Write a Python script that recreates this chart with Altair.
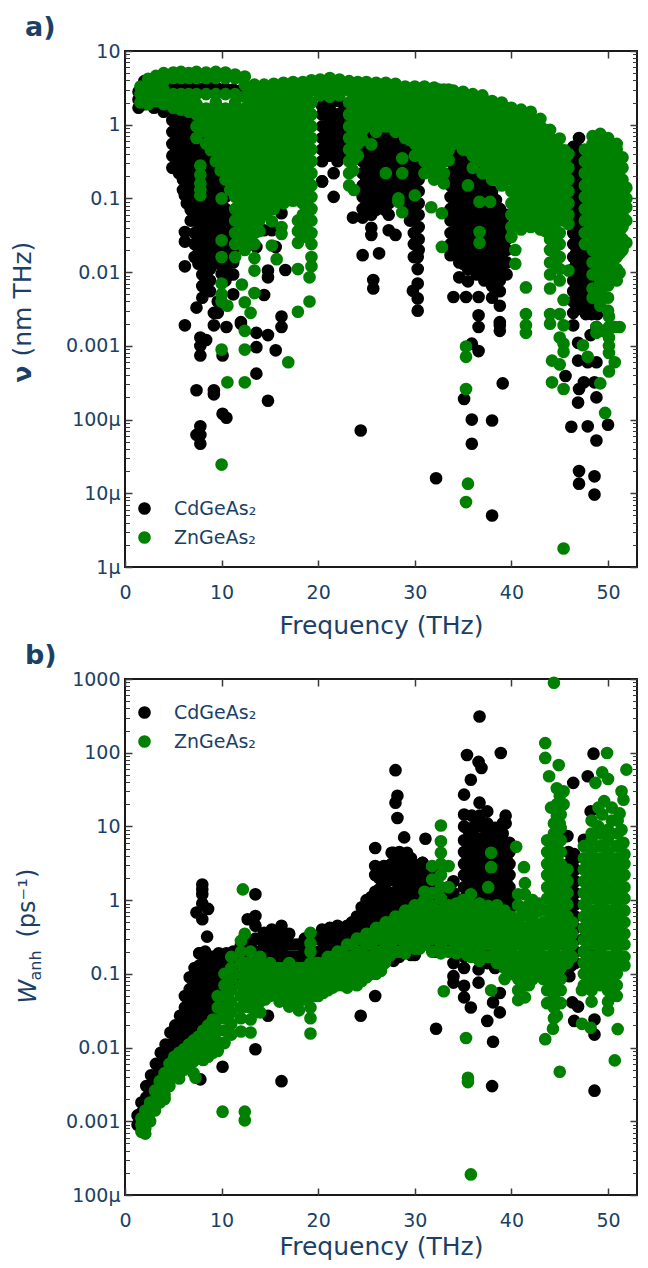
import altair as alt
import pandas as pd

NAVY = "#1b3f66"
TICK = "#3a3a3a"
BLACK = "#000000"
GREEN = "#008000"
SERIES = ["CdGeAs₂", "ZnGeAs₂"]
X_TICKS = [0, 10, 20, 30, 40, 50]
X_MAX = 53.0
A_TICKS = [1e-6, 1e-5, 1e-4, 1e-3, 1e-2, 1e-1, 1, 10]
B_TICKS = [1e-4, 1e-3, 1e-2, 1e-1, 1, 10, 100, 1000]

# Panel a, ZnGeAs2: (frequency, [values read at that frequency])
A_ZN = [
(1.6,[3.3,2.6,2.0]),(2.4,[4.2,3.2,2.4,1.9]),(3.2,[4.6,3.6,2.8,2.1]),(4,[5.0,3.9,3.0,2.3,1.9]),
(5,[5.1,4.3,2.6,1.95,1.7]),(5.8,[5.2,4.3,2.6,1.9,1.6]),(6.6,[5.0,4.3,2.6,1.9,1.5]),
(7.4,[5.2,4.3,2.6,1.9,1.38,.95,.66]),(8.4,[5.1,4.3,2.6,1.65,1.15,.8,.55]),
(9.4,[5.2,4.3,2.6,2,1.38,.95,.66,.46,.32]),(10.4,[5.1,4.3,2.6,1.65,1.15,.8,.55,.38,.26,.18]),
(11.4,[4.8,4.3,2.6,2,1.38,.95,.66,.46,.32,.22,.15,.105,.072,.05,.034,.024,.016]),
(12.4,[4.5,3.45,2.4,1.65,1.15,.8,.55,.38,.26,.18,.125,.086,.06,.041,.028,.02]),
(13.4,[3.5,2.9,2,1.38,.95,.66,.46,.32,.22,.15,.105,.072,.05,.034,.024]),
(14.4,[3.5,2.4,1.65,1.15,.8,.55,.38,.26,.18,.125,.086,.06]),
(15.4,[3.6,2.9,2,1.38,.95,.66,.46,.32,.22,.15,.105,.072]),
(16.4,[3.7,2.4,1.65,1.15,.8,.55,.38,.26,.18,.125,.086]),
(17.4,[3.8,2.9,2,1.38,.95,.66,.46,.32,.22,.15,.105]),
(18.4,[3.8,2.4,1.65,1.15,.8,.55,.38,.26,.18,.125,.086,.06,.041,.03]),
(19.3,[4.0,2.9,2,1.38,.95,.66,.46,.32,.22,.15,.105,.072,.05,.034,.024,.016,.012]),
(20.2,[4.1,3.2,2.5]),(21.2,[4.3,3.6,2.9,2.4]),(22.2,[4.1,3.2,2.5]),
(23.2,[3.9,2.9,2,1.38,.95,.66,.46,.32,.22,.15]),(24.1,[3.8,2.4,1.65,1.15,.8,.55,.38]),
(25,[3.8,2.9,2,1.38,.95]),(26,[3.7,2.4,1.65,1.15,.8]),(27,[3.7,2.9,2,1.38,.95]),(28,[3.6,2.4,1.65,1.15,.8]),
(29,[3.3,2.9,2,1.38,.95,.66]),(30,[3.3,2.4,1.65,1.15,.8,.55,.38]),(31,[3.3,2.9,2,1.38,.95,.66,.46,.32,.22]),
(32,[3.2,2.4,1.65,1.15,.8,.55,.38,.26,.18]),(33,[3.0,2,1.38,.95,.66,.46,.32,.22,.16]),(34,[2.9,2.4,1.65,1.15,.8,.55]),
(35,[2.8,2,1.38,.95,.66,.46]),(36,[2.6,1.65,1.15,.8,.55,.38,.26]),(37,[2.5,2,1.38,.95,.66,.46,.32,.22]),
(38,[2.1,1.65,1.15,.8,.55,.38,.26,.18]),(39,[2.0,1.38,.95,.66,.46,.32,.22,.15]),
(40,[1.7,1.15,.8,.55,.38,.26,.18,.125,.086,.06,.041,.03]),(41,[1.6,1.38,.95,.66,.46,.32,.22,.15,.105,.072,.05,.038]),
(42,[1.5,1.15,.8,.55,.38,.26,.18,.125,.086,.06,.041]),(43,[1.2,.95,.66,.46,.32,.22,.15,.105,.072,.05,.038]),
(44,[.85,.55,.38,.26,.18,.125,.086,.06,.041,.028,.02,.0135,.0093,.006]),
(45,[.65,.46,.32,.22,.15,.105,.072,.05,.034,.024,.016,.011,.0077]),(45.9,[.4,.26,.18,.125,.086,.06,.045]),
(47.6,[.46,.32,.22,.15,.105,.072,.05,.034,.024]),
(48.4,[.7,.55,.38,.26,.18,.125,.086,.06,.041,.028,.02,.0135,.0093,.006,.0045]),
(49.2,[.75,.66,.46,.32,.22,.15,.105,.072,.05,.034,.024,.016,.011,.0077,.005,.0035]),
(50,[.66,.55,.38,.26,.18,.125,.086,.06,.041,.028,.02,.0135,.0093,.0066,.0045,.003]),
(50.9,[.55,.46,.32,.22,.15,.105,.072,.05,.034,.024,.016,.011,.0077]),
(51.5,[.36,.26,.18,.125,.086,.06,.041,.028,.02]),(51.9,[.14,.1,.076,.05,.025]),
]
# Panel a, ZnGeAs2: further points inside the dense cloud
A_ZN_DENSE = [
(7.9,[1.6,1.15,.85]),(8.9,[1.6,1.15,.85,.62,.45]),(9.9,[1.6,1.15,.85,.62,.45,.33,.24]),
(10.9,[1.6,1.15,.85,.62,.45,.33,.24,.18,.13]),(11.9,[1.6,1.15,.85,.62,.45,.33,.24,.18,.13,.095,.07,.05,.036,.026]),
(12.9,[3,2.2,1.6,1.15,.85,.62,.45,.33,.24,.18,.13,.095,.07,.05,.036,.026]),
(13.9,[3,2.2,1.6,1.15,.85,.62,.45,.33,.24,.18,.13,.095,.07,.05,.036]),
(14.9,[3,2.2,1.6,1.15,.85,.62,.45,.33,.24,.18,.13,.095,.07]),(15.9,[3,2.2,1.6,1.15,.85,.62,.45,.33,.24,.18,.13,.095]),
(16.9,[3,2.2,1.6,1.15,.85,.62,.45,.33,.24,.18,.13,.095]),(17.9,[3,2.2,1.6,1.15,.85,.62,.45,.33,.24,.18,.13,.095]),
(18.9,[3,2.2,1.6,1.15,.85,.62,.45,.33,.24,.18,.13,.095,.07,.05,.036]),
(23.6,[3,2.2,1.6,1.15,.85,.62,.45,.33,.24]),(24.6,[3,2.2,1.6,1.15,.85,.62]),(25.5,[3,2.2,1.6,1.15]),(26.5,[3,2.2,1.6,1.15,.95]),
(27.5,[3,2.2,1.6,1.15,.95]),(28.5,[3,2.2,1.6,1.15,.85]),(29.5,[3,2.2,1.6,1.15,.85,.62]),(30.5,[3,2.2,1.6,1.15,.85,.62,.45]),
(31.5,[3,2.2,1.6,1.15,.85,.62,.45,.33,.24]),(32.5,[3,2.2,1.6,1.15,.85,.62,.45,.33,.24]),(33.5,[3,2.2,1.6,1.15,.85,.62,.45,.33]),
(34.5,[2.4,2.2,1.6,1.15,.85,.62]),(35.5,[2.2,1.6,1.15,.85,.62,.45]),(36.5,[2.2,1.6,1.15,.85,.62,.45,.33]),
(37.5,[2,1.6,1.15,.85,.62,.45,.33,.24]),(38.5,[1.6,1.15,.85,.62,.45,.33,.24,.18]),(39.5,[1.6,1.15,.85,.62,.45,.33,.24,.18]),
(40.5,[1.4,1.15,.85,.62,.45,.33,.24,.18,.13,.095,.07,.05]),(41.5,[1.3,1.15,.85,.62,.45,.33,.24,.18,.13,.095,.07,.05]),
(42.5,[1.15,.85,.62,.45,.33,.24,.18,.13,.095,.07,.05]),(43.5,[.85,.62,.45,.33,.24,.18,.13,.095,.07,.05,.036]),
(44.5,[.62,.45,.33,.24,.18,.13,.095,.07,.05,.036,.026,.018,.013]),(45.5,[.45,.33,.24,.18,.13,.095,.07,.05]),
(48,[.45,.33,.24,.18,.13,.095,.07,.05,.036]),(48.8,[.62,.45,.33,.24,.18,.13,.095,.07,.05,.036,.026,.018,.013]),
(49.6,[.6,.45,.33,.24,.18,.13,.095,.07,.05,.036,.026,.018,.013,.0095,.0065]),
(50.5,[.5,.36,.26,.19,.14,.1,.07,.05,.036,.026,.018,.013,.0095]),(51.2,[.33,.24,.18,.13,.095,.07,.05,.036,.026,.018]),
]
# Panel a, ZnGeAs2 separate points
A_ZN_LOOSE = [
(7.8,[.28,.21,.16,.13,.11]),(10,[.1,.027,.016,.007,.005,.004,.00089,.0000245]),(10.6,[.0035,.00032]),
(12.1,[.0068]),(12.4,[.0039,.0016,.00089,.00032]),(13,[.0028]),(13.4,[.0052,.0155,.0105]),
(15.2,[.049,.023]),(15.7,[.015]),(16.2,[.041,.033]),(16.9,[.0006]),(17.4,[.093]),(17.9,[.05,.036,.025,.011,.0029]),
(19.1,[.0085,.004]),(23.7,[.13]),(25.5,[.54]),(27,[.22]),(28.3,[.1,.09]),(28.7,[.35,.22,.065]),(30,[.11]),
(31.7,[.076]),(32.8,[.063,.022]),(35.3,[.00098,.00071,.00026,.0000076]),(35.5,[.15,.0000135]),
(36.7,[.09,.035,.025]),(37.8,[.09]),(40.4,[.02,.013]),(41.5,[.0062,.0027,.0019,.0015]),
(44,[.0027,.002]),(44.2,[.00063,.00032]),(45,[.0027,.00056,.0013]),(45.4,[.0042,.0019,.00107,.00083,.00026,.00000178]),
(45.9,[.0105]),(47.4,[.00102]),(47.9,[.00071]),(48.8,[.0018,.0015]),(49.2,[.00031]),(49.4,[.0016]),(49.7,[.000123]),
(50.1,[.0025,.0018,.0013,.001,.0008,.00045]),(50.7,[.0018,.0006]),(51.2,[.0098,.0018]),
]

# Panel a, CdGeAs2
A_CD = [
(1.4,[2.8,2.2,1.7]),(2,[3.9,2.6,1.9]),(3,[2.0,1.7]),(4,[1.7,1.5]),
(4.9,[3.2,1.6,1.15,.8,.55,.38,.26]),(5.6,[3.2,1.38,.95,.66,.46,.32,.22]),
(6.4,[3.2,1.15,.8,.55,.38,.26,.18,.125,.086]),
(7.2,[3.2,1.38,.95,.66,.46,.32,.22,.15,.105,.072,.05,.034,.024,.016]),
(8,[3.1,.8,.55,.38,.26,.18,.125,.086,.06,.041,.028,.02,.0135,.0093,.0065,.0045]),
(8.8,[3.2,.46,.32,.22,.15,.105,.072,.05,.034,.024,.016,.011,.0077,.0055]),
(9.6,[3.1,.26,.18,.125,.086,.06,.041,.028,.02,.0135,.004,.0028]),
(10.4,[3.1,.15,.105,.072,.05,.034,.024,.016,.011,.0077]),
(11.2,[3.0,.06,.041,.028,.02,.0135,.0093,.005]),(12,[2.9]),
(20.4,[1.8,1.38,.95,.66,.46,.32,.17]),(21.2,[2.1,1.65,1.15,.8,.55,.38]),(22,[2.1,1.38,.95,.66,.46,.32]),
(22.7,[1.65,1.15,.8,.55,.4]),
(24.6,[.95,.66,.46,.32,.22,.15,.105,.072,.055]),(25.5,[.8,.55,.38,.26,.18,.125,.086,.06,.04,.032]),
(26.4,[.95,.66,.46,.32,.22,.15,.105,.08]),(27.3,[1,.8,.55,.38,.26,.18,.125,.086,.06,.037]),
(28.2,[.66,.46,.32,.22,.15,.105]),(29.1,[.55,.38,.26,.18,.125,.09]),
(29.9,[.46,.32,.22,.15,.105,.072,.05,.034,.024,.016]),(30.4,[.26,.18,.125,.086,.06,.041,.028,.02]),
(33.7,[.66,.46,.32,.22,.15,.105,.072,.05,.034,.024,.017]),
(34.6,[.55,.38,.26,.18,.125,.086,.06,.041,.028,.02,.0135,.0085]),
(35.5,[.32,.22,.15,.105,.072,.05,.034,.024,.016,.011,.0075]),
(36.4,[.26,.18,.125,.086,.06,.041,.028,.02,.0135,.0093]),
(37.2,[.15,.105,.072,.05,.034,.024,.016,.011,.0077]),
(38,[.125,.086,.06,.041,.028,.02,.0135,.0093,.0065,.0045]),
(38.8,[.072,.05,.034,.024,.016,.011,.0077,.0055,.0035]),(39.5,[.06,.041,.028,.02,.0135,.0093]),
(46.4,[.5,.32,.22,.15,.105,.072,.05,.034,.024,.016,.011,.0077,.0055,.004,.0028]),
(47,[.66,.46,.38,.26,.18,.125,.086,.06,.041,.028,.02,.0135,.0093,.0065,.0045,.0032]),
(47.7,[.034,.024,.016,.011,.0077,.0055,.0038,.0027]),(48.3,[.011,.0077,.0055,.0038,.0027]),
(48.9,[.008,.0055,.0038,.0027]),
]
# Panel a, CdGeAs2: further points inside the dense cloud
A_CD_DENSE = [
(5.3,[1.15,.85,.62,.45,.33]),(6,[1.1,.85,.62,.45,.33,.24,.18,.13]),(6.8,[1.2,.85,.62,.45,.33,.24,.18,.13,.095,.07,.05]),
(7.6,[.62,.45,.33,.24,.18,.13,.095,.07,.05,.036,.026,.018,.013]),(8.4,[.45,.33,.24,.18,.13,.095,.07,.05,.036,.026,.018,.013,.0095,.007]),
(9.2,[.33,.24,.18,.13,.095,.07,.05,.036,.026,.018,.013]),(10,[.18,.13,.095,.07,.05,.036,.026,.018,.013,.0095]),
(25,[.6,.45,.33,.24,.18,.13,.095,.07]),(26,[.6,.45,.33,.24,.18,.13,.095,.07]),(26.9,[.62,.45,.33,.24,.18,.13,.095,.07]),
(27.8,[.62,.45,.33,.24,.18,.13,.1]),(28.7,[.45,.33,.24,.18,.13,.1]),(29.5,[.33,.24,.18,.13,.095,.07,.05]),
(34.2,[.33,.24,.18,.13,.095,.07,.05,.036,.026,.018]),(35,[.33,.24,.18,.13,.095,.07,.05,.036,.026,.018,.013]),
(36,[.24,.18,.13,.095,.07,.05,.036,.026,.018,.013]),(36.8,[.18,.13,.095,.07,.05,.036,.026,.018,.013,.0095]),
(37.6,[.13,.095,.07,.05,.036,.026,.018,.013,.0095]),(38.4,[.095,.07,.05,.036,.026,.018,.013,.0095,.007]),(39.1,[.05,.036,.026,.018,.013]),
(46.7,[.33,.24,.18,.13,.095,.07,.05,.036,.026,.018,.013,.0095,.007,.005]),(47.3,[.036,.026,.018,.013,.0095,.007,.005,.0036]),
(48,[.013,.0095,.007,.005,.0036]),
]
# Panel a, CdGeAs2 separate points
A_CD_LOOSE = [
(6.2,[.11,.035,.026,.012,.0019]),(7.4,[.0033,.00025,.000062]),
(7.8,[.0013,.00074,.001,.000081,.000062,.000047]),(8.4,[.0012]),(9.2,[.0028,.0019,.00025,.00022]),
(10.1,[.00074,.00012]),(10.5,[.0018,.000106]),(12,[.0021,.002]),(13.6,[.022,.0015,.00096,.00042]),(14.4,[.0049,.037]),
(14.8,[.0105,.0085,.0014,.00018]),(15.2,[.037]),(15.6,[.022,.00087]),(16.2,[.0025,.0018,.063]),(16.6,[.0107]),
(21.6,[.22,.105]),(20.4,[.17]),(23.6,[.055]),(24.6,[.017]),(24.4,[.000071]),(25.7,[.0078,.006]),(26.3,[.018]),(28,[.032]),
(29.8,[.0056]),(30.3,[.016,.011,.007,.0044,.003]),(32.2,[.000016]),(34,[.0046]),(35.1,[.00019]),(35.3,[.0046]),
(35.9,[.00107,.0001,.000047]),(36.6,[.0046,.0026,.0018,.00085]),(38,[.000097,.000005]),(38.8,[.0021,.0019,.0016]),(39.1,[.00031]),
(45.6,[.00039]),(46.2,[.00008]),(46.4,[.0019]),(46.9,[.0011,.00063,.00017]),(47,[.00026,.00002,.0000135]),
(47.5,[.00032]),(47.9,[.0006,.000081]),(48.2,[.0014]),(48.6,[.00032,.000017,.0000096]),
(48.8,[.0018,.0006,.0002,.000052]),(50,[.000085]),
]

# Panel b, ZnGeAs2
B_ZN = [
(1.7,[.0011,.0009,.00072]),(2.1,[.0014,.0011,.0008,.00068]),(2.6,[.0018,.0013,.001]),(3.1,[.0026,.0019,.0014]),
(3.6,[.0035,.0025,.0018]),(4.1,[.0045,.0032,.0023,.002]),(4.6,[.006,.0043,.003]),(5.1,[.0075,.0055,.004]),
(5.6,[.0085,.0062,.0045,.0038]),(6.1,[.0095,.007,.005]),(6.6,[.011,.008,.0058]),(7.1,[.0125,.009,.0065,.0045]),
(7.6,[.014,.01,.0072]),(8.1,[.017,.012,.0085,.0068]),(8.6,[.02,.014,.0095,.0075]),(9.1,[.024,.017,.012,.0085]),
(9.6,[.05,.035,.024,.017,.012,.009]),(10.3,[.1,.07,.05,.035,.025,.017,.0115]),
(11,[.17,.12,.085,.06,.042,.03,.021,.015]),(12,[.28,.2,.14,.1,.07,.05,.035,.025,.0165]),
(13,[.2,.14,.1,.07,.05,.035,.024,.016]),(14,[.17,.12,.085,.06,.042,.03]),(15,[.14,.1,.07,.05]),(16,[.12,.085,.06,.042]),
(17,[.14,.1,.07,.05,.036]),(18,[.12,.085,.06,.042,.032]),(19.2,[.36,.26,.2,.14,.1,.07,.05,.035,.025]),
(20,[.14,.1,.07,.05]),(21,[.17,.12,.085,.06]),(22,[.2,.14,.1,.07]),(23,[.25,.17,.12,.085,.065]),(24,[.3,.2,.14,.1,.07]),
(25,[.35,.25,.17,.12,.09]),(26,[.42,.3,.2,.14,.1]),(27,[.5,.35,.25,.17]),(28,[.6,.42,.3,.2]),(29,[.72,.5,.35,.25,.19]),
(30,[.85,.6,.42,.3,.22]),(31,[1.3,1,.72,.5,.35,.25]),(31.8,[2.9,1.9,1.25,.85,.6,.42,.3,.2]),
(32.7,[10.3,6.3,4.4,3.1,2.2,1.5,1.05,.72,.5,.35,.25,.19]),(33.5,[2.9,1.5,.85,.6,.42,.3,.2]),
(34.3,[.9,.72,.5,.35,.25,.19]),(35,[1,.6,.42,.3,.2]),(35.8,[1.2,.85,.5,.35,.25,.17]),(36.7,[.9,.6,.42,.3,.2,.15]),
(37.6,[1.5,.83,.5,.35,.25,.17]),(38.5,[.85,.6,.42,.3,.2,.14]),(39.3,[.72,.45,.35,.25,.17,.12,.085]),
(40,[.6,.42,.3,.2,.14,.1]),(40.7,[1.2,.85,.5,.35,.25,.17,.12,.085,.06,.044]),
(41.4,[1.7,1.2,.72,.42,.3,.2,.14,.1,.07,.048]),(42.2,[1,.6,.5,.35,.25,.17,.12,.085]),(42.9,[.9,.72,.42,.3,.2,.14,.1]),
(43.7,[6.5,4.5,3.1,2.2,1.5,1.05,.72,.5,.35,.25,.17,.12,.085,.06,.04]),
(44.4,[11,8,5.4,3.7,2.6,1.8,1.25,.87,.6,.42,.29,.2,.14,.1,.07,.05,.035,.025]),
(45.1,[14.5,9.5,6.5,4.5,3.1,2.2,1.5,1.05,.72,.5,.35,.25,.17,.12,.085,.06,.04]),
(45.8,[2.6,1.8,1.25,.87,.6,.42,.29,.2,.14]),(46.3,[.5,.35,.25,.17]),
(47.5,[5.4,3.7,2.6,1.8,1.25,.87,.6,.42,.29,.2,.14,.1,.07]),
(48.3,[12,8,6.5,4.5,3.1,2.2,1.5,1.05,.72,.5,.35,.25,.17,.12,.085,.06,.042]),
(49.2,[8,5.4,3.7,2.6,1.8,1.25,.87,.6,.42,.29,.2,.14,.1,.07]),
(50,[9,6.5,4.5,3.1,2.2,1.5,1.05,.72,.5,.35,.25,.17,.12,.085,.06,.042,.032]),
(50.9,[5.4,3.7,2.6,1.8,1.25,.87,.6,.42,.29,.2,.14,.1,.07,.05]),
(51.7,[4.2,3.1,2.2,1.5,1.05,.72,.5,.35,.25,.17,.13]),
]
# Panel b, ZnGeAs2: further points inside the dense cloud
B_ZN_DENSE = [
(12.5,[.14,.1,.07,.05,.036]),(13.5,[.12,.085,.06,.042,.03]),(14.5,[.12,.085,.06,.045]),(15.5,[.12,.085,.06]),
(16.5,[.12,.085,.06,.045]),(17.5,[.12,.085,.06,.045]),(18.5,[.12,.085,.06,.045]),(19.6,[.14,.1,.07,.05]),
(20.5,[.14,.1,.07,.055]),(21.5,[.17,.12,.085,.065]),(22.5,[.2,.14,.1,.07]),(23.5,[.25,.17,.12,.085]),
(24.5,[.3,.2,.14,.1,.08]),(25.5,[.35,.25,.17,.12,.1]),(26.5,[.42,.3,.2,.14,.11]),(27.5,[.5,.35,.25,.18]),
(28.5,[.6,.42,.3,.2]),(29.5,[.72,.5,.35,.25]),(30.5,[.85,.6,.42,.3,.22]),
(34.7,[.6,.42,.3,.2]),(35.4,[.8,.55,.38,.26,.18]),(36.2,[.7,.5,.35,.25,.17]),(37.1,[.7,.5,.35,.25,.17]),(38,[.7,.5,.35,.25,.17]),
(38.9,[.6,.42,.3,.2,.14]),(39.7,[.5,.35,.25,.17,.12]),(40.3,[.5,.35,.25,.17,.12]),(41,[.8,.6,.35,.25,.17,.12,.085]),
(41.8,[.85,.6,.42,.3,.2,.14,.1,.07]),(42.6,[.7,.42,.3,.2,.14,.1]),(43.3,[.5,.35,.25,.17,.12,.085]),
(44.7,[20,14,10]),(45,[20,11]),
(47.9,[3,2.2,1.5,1.05,.72,.5,.35,.25,.17,.12]),(48.8,[3,2.2,1.5,1.05,.72,.5,.35,.25,.17,.12]),
(49,[18,10]),(49.6,[3,2.2,1.5,1.05,.72,.5,.35,.25,.17,.12]),(50.4,[18,12]),(50.5,[3,2.2,1.5,1.05,.72,.5,.35,.25,.17,.12]),
(51,[12,8]),(51.3,[3,2.2,1.5,1.05,.72,.5,.35,.25,.17]),
]
# Panel b, ZnGeAs2 separate points
B_ZN_LOOSE = [
(7.3,[.0039]),(10.1,[.00135]),(12.2,[1.4]),(12.4,[.35,.00135,.00103]),(19.2,[.0155]),(26.9,[.14]),(33,[.058]),(35.3,[.0135]),
(35.5,[.0039,.0034]),(35.8,[.00019]),(37.9,[4.4,2.8,.06]),(40.5,[5.3]),(41.3,[2.8]),(43.5,[135,85,.013]),(44.4,[890]),
(43.9,[48]),(44.3,[.018]),(44.1,[18]),(44.7,[33,.027]),(44.9,[68]),(45,[26,.0047]),(45.4,[30,20]),(47.3,[.06,.021]),
(48.2,[.0186]),(48.7,[39]),(49.4,[54,14.5]),(49.6,[22]),(49.9,[99]),(50,[44]),(50.7,[.0067]),(51,[.0178]),
(51.2,[15]),(51.4,[30,9]),(51.6,[23,6]),(51.9,[59]),
]

# Panel b, CdGeAs2
B_CD = [
(1.3,[.0012,.0009]),(1.7,[.0018,.0013,.0009]),(2.2,[.003,.0021,.0015]),(2.7,[.0042,.003,.0021]),(3.2,[.006,.0042,.003]),
(3.7,[.0085,.006,.0042]),(4.2,[.011,.0078,.0055]),(4.7,[.016,.011,.0078]),(5.2,[.02,.014,.01]),(5.7,[.027,.019,.013]),
(6.2,[.05,.035,.024,.017,.012]),(6.7,[.09,.062,.043,.03,.021,.015]),(7.2,[.12,.085,.06,.042,.03,.021,.015]),
(7.7,[.19,.13,.09,.063,.044,.031,.022]),(8.3,[.2,.14,.1,.07,.05,.035,.025]),(9,[.17,.12,.085,.06,.042,.03]),
(9.7,[.19,.13,.09,.063,.045,.035]),(10.5,[.19,.13,.09,.063]),(11.2,[.2,.14,.1,.07]),(12,[.25,.17,.12,.085]),
(12.7,[.2,.14,.1]),(13.5,[.3,.2,.14,.1]),(14.4,[.36,.25,.17,.12,.09]),(15.2,[.4,.28,.2,.14,.1]),
(16.2,[.45,.3,.2,.14,.1]),(17,[.35,.25,.17,.12]),(17.8,[.25,.17,.12]),(18.6,[.3,.2,.14]),(19.5,[.3,.2,.14]),
(20.4,[.4,.28,.2,.14]),(21.2,[.42,.3,.2]),(22,[.45,.32,.22,.15]),(23,[.45,.3,.2]),(24,[.6,.42,.3,.2,.14]),
(25,[1,.72,.5,.35,.25,.17]),(25.9,[1.3,.85,.6,.42,.3,.2,.14]),(26.8,[2.9,2.2,1.5,1.05,.72,.5,.35,.25,.17]),
(27.6,[4.4,3.1,2.2,1.25,.87,.6,.42,.29,.2]),(28.4,[4.5,3.1,2.2,1.5,1.05,.72,.5,.35,.25,.17]),
(29.2,[4.4,3.1,2.6,1.8,1.25,.87,.6,.42,.29,.2]),(30,[3,2.2,1.5,1.05,.72,.5,.35,.25,.18]),
(30.8,[3.2,2.3,1.8,1.25,.87,.6,.42,.29]),(32,[2.5,1.5,1.05,.72,.5,.35,.25,.2]),(33,[1.4,1.05,.72,.5,.35,.25]),
(34,[1.8,1.25,.87,.6,.42,.29,.2,.14]),
(35.1,[10,6.5,4.5,3.1,2.2,1.5,1.05,.72,.5,.35,.25,.17,.12]),
(35.9,[14,9.5,6.5,5.4,3.7,2.6,1.8,1.25,.87,.6,.42,.29,.2]),
(36.7,[14,10,6.5,4.5,3.1,2.2,1.5,1.05,.72,.5,.35,.25,.17]),
(37.5,[16,11,8,5.4,3.7,2.6,1.8,1.25,.87,.6,.42,.29,.2,.14]),
(38.3,[9.6,6.5,4.5,3.1,2.2,1.5,1.05,.72,.5,.35,.25,.17,.12]),
(39.1,[11,8,5.4,3.7,2.6,1.8,1.25,.87,.6,.42,.29,.2,.14]),
(39.8,[6,4.5,3.1,2.2,1.5,1.05,.72,.5,.35]),
(45.9,[4.5,3.1,2.2,1.5,1.05,.72,.5,.35,.25,.17,.12]),(46.6,[3.7,2.6,1.8,1.25,.87,.6,.42,.29,.2,.14]),
(47.5,[.3,.2,.14]),(48.2,[.2,.14]),(48.6,[.2,.14,.1]),
]
# Panel b, CdGeAs2: further points inside the dense cloud
B_CD_DENSE = [
(8.7,[.14,.1,.07,.05,.036]),(9.4,[.15,.1,.07,.05]),(10.1,[.15,.1,.07]),(10.9,[.15,.1,.07]),(11.6,[.2,.14,.1]),(12.3,[.22,.15,.1]),
(13.1,[.22,.15]),(13.9,[.3,.2,.14,.1]),(14.8,[.3,.2,.14,.1]),(15.7,[.35,.25,.17,.12]),(16.6,[.35,.25,.17]),(17.4,[.25,.17,.12]),
(18.2,[.25,.17]),(19,[.25,.17]),(20,[.3,.2,.14]),(20.8,[.35,.25,.17]),(21.6,[.38,.27,.19]),(22.5,[.4,.28,.2]),(23.5,[.5,.35,.25,.17]),
(24.5,[.8,.55,.38,.26,.18]),(25.5,[1.1,.8,.55,.38,.26,.18]),(26.3,[2,1.4,1,.7,.5,.35,.25,.17]),(27.2,[2.6,1.8,1.25,.87,.6,.42,.3,.2]),
(28,[3.7,2.6,1.8,1.25,.87,.6,.42,.3]),(28.8,[3.7,2.6,1.8,1.25,.87,.6,.42,.3,.2]),(29.6,[3.7,2.6,1.8,1.25,.87,.6,.42,.3,.2]),
(30.4,[2.6,1.8,1.25,.87,.6,.42,.3]),(31.3,[2.2,1.5,1.05,.72,.5,.35,.25]),(32.5,[1.5,1.05,.72,.5,.35,.25]),(33.5,[1.5,1.05,.72,.5,.35]),
(35.5,[9,6,4.2,3,2,1.4,1,.7,.5,.35,.25]),(36.3,[10,7,4.8,3.3,2.3,1.6,1.1,.8,.55,.38,.27]),(37.1,[10,7,4.8,3.3,2.3,1.6,1.1,.8,.55,.38,.27]),
(37.9,[7,4.8,3.3,2.3,1.6,1.1,.8,.55,.38,.27]),(38.7,[7,4.8,3.3,2.3,1.6,1.1,.8,.55,.38,.27]),(39.5,[5,3.5,2.4,1.7,1.2,.85,.6,.42,.3]),
(46.2,[3.3,2.3,1.6,1.1,.8,.55,.38,.27,.18,.13]),
]
# Panel b, CdGeAs2 separate points
B_CD_LOOSE = [
(7.4,[.68]),(7.7,[.19]),(7.8,[.0037]),(8,[1.63,1.4,1.2,.9,.55]),(8.5,[.32]),(8.6,[.76]),(10.1,[.0055]),(12.7,[.55,.29]),
(13.5,[1.2,.61,.45,.0095]),(14.8,[.027]),(16.2,[.0035]),(24.4,[.027]),(25.9,[5.1,2.9,2.2,.05]),(27.2,[2.9]),(27.8,[4.4,.15]),
(28,[58,21]),(28.2,[26,13]),(28.9,[7.1]),(29.6,[.18]),(30.8,[3.2]),(31.1,[6.8]),(32.2,[.018,.2]),(34,[.093,.076]),
(35.1,[27,14.5,.069,.048]),(35.4,[93]),(35.8,[43,.035]),(36.6,[.115,.076]),(36.7,[310,21]),(36.6,[75]),(36.9,[62]),
(37.5,[.023]),(38.1,[.041,.012]),(38,[.003]),(38.8,[.055,.03]),(38.9,[99]),(39.4,[14,11]),(45.8,[7.4]),(46,[.093]),
(46.3,[.041]),(46.4,[39]),(46.5,[4.2,.023]),(46.9,[.036]),(47.5,[6.6]),(47.9,[48]),(48.2,[16]),(48.5,[97]),
(48.6,[.024,.015,.0026]),
]


def frame(name, *groups):
    rows = [{"f": f, "v": v, "series": name} for group in groups for f, values in group for v in values]
    return pd.DataFrame(rows)


def minors(lo, hi):
    return [m * 10.0 ** e for e in range(lo, hi) for m in range(2, 10)]


def y_axis(orient, values, size, labels=False, extra=None):
    opts = dict(orient=orient, values=values, tickSize=size, offset=-size, domain=False, grid=False,
                labels=labels, tickColor=TICK, tickWidth=1.5 if size > 5 else 1, title=None)
    if labels:
        opts.update(labelFontSize=19, labelColor=NAVY, labelFont="DejaVu Sans", labelPadding=5,
                    labelBound=False, labelFlush=False,
                    labelExpr="datum.value < 0.0005 ? format(datum.value, '~s') : format(datum.value, '~g')")
    if extra:
        opts.update(title=extra["text"], titleX=extra["x"], titleY=extra["y"], titleAngle=-90,
                    titleAlign="left", titleBaseline="alphabetic", titleFont="DejaVu Sans",
                    titleFontSize=extra["size"], titleFontWeight=extra.get("weight", "normal"),
                    titleFontStyle=extra.get("style", "normal"), titleColor=NAVY)
    return alt.Axis(**opts)


def x_axis(orient, labels, title=None, title_pad=11):
    opts = dict(orient=orient, values=X_TICKS, tickSize=7, offset=-7, domain=False, grid=False, labels=labels,
                tickColor=TICK, tickWidth=1.5, title=title)
    if labels:
        opts.update(labelFontSize=19, labelColor=NAVY, labelFont="DejaVu Sans", labelPadding=16, labelFlush=False,
                    format="d", titleFontSize=25, titleFont="DejaVu Sans", titleFontWeight="normal",
                    titleColor=NAVY, titlePadding=title_pad)
    return alt.Axis(**opts)


def panel(cd, zn, domain, ticks, minor_ticks, letter, legend_y, titles, title_pad, width=512, height=516):
    xs = alt.Scale(domain=[0, X_MAX], nice=False, zero=False)
    ys = alt.Scale(type="log", domain=domain, nice=False)
    cs = alt.Scale(domain=SERIES, range=[BLACK, GREEN])
    lg = alt.Legend(orient="none", legendX=10, legendY=legend_y, title=None, labelFontSize=19, labelColor=NAVY,
                    labelFont="DejaVu Sans", symbolSize=160, symbolStrokeWidth=0, rowPadding=9, labelOffset=20,
                    symbolOffset=0)
    helper = pd.DataFrame({"f": [25.0], "v": [1.0]})
    layer_cd = alt.Chart(cd).mark_circle(size=160, opacity=1).encode(
        x=alt.X("f:Q", scale=xs, axis=x_axis("bottom", True, "Frequency (THz)", title_pad)),
        y=alt.Y("v:Q", scale=ys, axis=y_axis("left", ticks, 7, True, titles[0])),
        color=alt.Color("series:N", scale=cs, legend=lg))
    layer_zn = alt.Chart(zn).mark_circle(size=160, opacity=1).encode(
        x=alt.X("f:Q", scale=xs, axis=x_axis("top", False)),
        y=alt.Y("v:Q", scale=ys, axis=y_axis("right", ticks, 7, False)),
        color=alt.Color("series:N", scale=cs, legend=lg))
    layer_l = alt.Chart(helper).mark_point(opacity=0).encode(
        x=alt.X("f:Q", scale=xs, axis=None),
        y=alt.Y("v:Q", scale=ys, axis=y_axis("left", minor_ticks, 4.5, False, titles[1])))
    layer_r = alt.Chart(helper).mark_point(opacity=0).encode(
        x=alt.X("f:Q", scale=xs, axis=None),
        y=alt.Y("v:Q", scale=ys, axis=y_axis("right", minor_ticks, 4.5, False, titles[2] if len(titles) > 2 else None)))
    return alt.layer(layer_cd, layer_zn, layer_l, layer_r).resolve_axis(x="independent", y="independent").properties(
        width=width, height=height,
        title=alt.TitleParams(letter, anchor="start", frame="group", dx=-100, offset=0, fontSize=27,
                              fontWeight="bold", font="DejaVu Sans", color=NAVY, align="left"))


top_a = panel(frame(SERIES[0], A_CD, A_CD_DENSE, A_CD_LOOSE), frame(SERIES[1], A_ZN, A_ZN_DENSE, A_ZN_LOOSE),
              [1e-6, 10], A_TICKS, minors(-6, 1), "a)", 448,
              [dict(text="(nm THz)", x=-101.6, y=305, size=25),
               dict(text="ν", x=-99, y=331, size=25, weight="bold")], 11)
bot_b = panel(frame(SERIES[0], B_CD, B_CD_DENSE, B_CD_LOOSE), frame(SERIES[1], B_ZN, B_ZN_DENSE, B_ZN_LOOSE),
              [1e-4, 1000], B_TICKS, minors(-4, 3), "b)", 24,
              [dict(text="(ps⁻¹)", x=-97.6, y=258, size=24),
               dict(text="W", x=-94, y=324, size=24, style="italic"),
               dict(text="anh", x=-592, y=301, size=16)], 4)

chart = alt.vconcat(top_a, bot_b, spacing=2).resolve_scale(color="independent").resolve_legend(color="independent").properties(
    padding={"left": 1, "top": 5, "right": 0, "bottom": 0}
).configure_view(stroke="#1a1a1a", strokeWidth=2)

chart.save("out.html", embed_options={"renderer": "svg", "actions": False})
